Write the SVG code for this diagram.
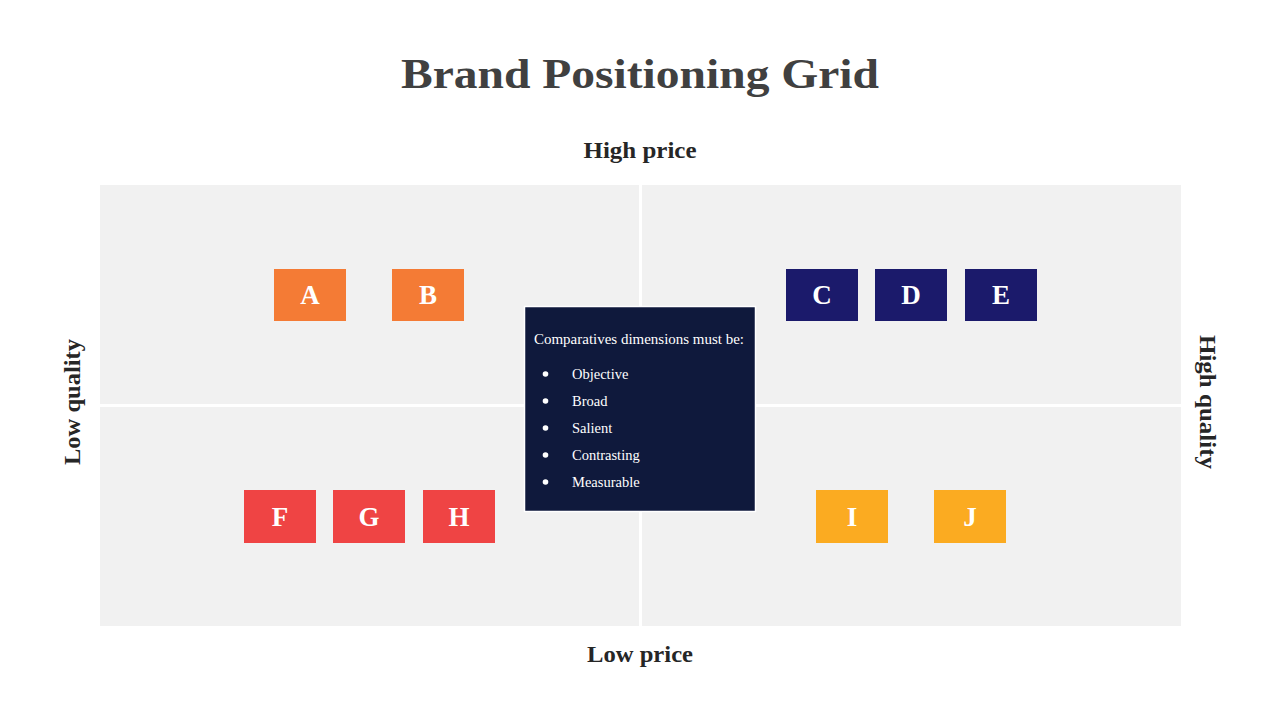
<svg xmlns="http://www.w3.org/2000/svg" width="1280" height="720" viewBox="0 0 1280 720">
<style>
.quad{fill:#f1f1f1}
.title{font-family:"Liberation Serif",serif;font-weight:bold;font-size:42px;fill:#404040;text-anchor:middle}
.axis{font-family:"Liberation Serif",serif;font-weight:bold;font-size:23px;fill:#262626;text-anchor:middle}
.lbl{font-family:"Liberation Serif",serif;font-weight:bold;font-size:27px;fill:#ffffff;text-anchor:middle}
.info{font-family:"Liberation Serif",serif;font-size:14.5px;fill:#ffffff}
.orange{fill:#f47b35}.navy{fill:#1b1a6b}.red{fill:#ef4444}.yellow{fill:#fbab21}
</style>
<rect width="1280" height="720" fill="#ffffff"/>
<text class="title" x="640" y="88" textLength="478" lengthAdjust="spacingAndGlyphs">Brand Positioning Grid</text>
<text class="axis" x="640" y="158" textLength="113" lengthAdjust="spacingAndGlyphs">High price</text>
<text class="axis" x="640" y="662" textLength="106" lengthAdjust="spacingAndGlyphs">Low price</text>
<text class="axis" transform="translate(80,402) rotate(-90)" textLength="126" lengthAdjust="spacingAndGlyphs">Low quality</text>
<text class="axis" transform="translate(1200,402) rotate(90)" textLength="134" lengthAdjust="spacingAndGlyphs">High quality</text>
<g id="grid">
<rect class="quad" x="100" y="185" width="539" height="219"/>
<rect class="quad" x="642" y="185" width="539" height="219"/>
<rect class="quad" x="100" y="407" width="539" height="219"/>
<rect class="quad" x="642" y="407" width="539" height="219"/>
</g>
<g id="A"><rect class="orange" x="274" y="269" width="72" height="52"/><text class="lbl" x="310" y="304">A</text></g>
<g id="B"><rect class="orange" x="392" y="269" width="72" height="52"/><text class="lbl" x="428" y="304">B</text></g>
<g id="C"><rect class="navy" x="786" y="269" width="72" height="52"/><text class="lbl" x="822" y="304">C</text></g>
<g id="D"><rect class="navy" x="875" y="269" width="72" height="52"/><text class="lbl" x="911" y="304">D</text></g>
<g id="E"><rect class="navy" x="965" y="269" width="72" height="52"/><text class="lbl" x="1001" y="304">E</text></g>
<g id="F"><rect class="red" x="244" y="490" width="72" height="53"/><text class="lbl" x="280" y="526">F</text></g>
<g id="G"><rect class="red" x="333" y="490" width="72" height="53"/><text class="lbl" x="369" y="526">G</text></g>
<g id="H"><rect class="red" x="423" y="490" width="72" height="53"/><text class="lbl" x="459" y="526">H</text></g>
<g id="I"><rect class="yellow" x="816" y="490" width="72" height="53"/><text class="lbl" x="852" y="526">I</text></g>
<g id="J"><rect class="yellow" x="934" y="490" width="72" height="53"/><text class="lbl" x="970" y="526">J</text></g>
<g id="info">
<rect x="524.5" y="306.5" width="231" height="205" fill="#0f193c" stroke="#ffffff" stroke-width="1.5"/>
<text class="info" x="534" y="344" textLength="210" lengthAdjust="spacingAndGlyphs">Comparatives dimensions must be:</text>
<g fill="#ffffff">
<circle cx="545.5" cy="374" r="2.8"/><circle cx="545.5" cy="401" r="2.8"/><circle cx="545.5" cy="428" r="2.8"/><circle cx="545.5" cy="455" r="2.8"/><circle cx="545.5" cy="482" r="2.8"/>
</g>
<text class="info" x="572" y="379">Objective</text>
<text class="info" x="572" y="406">Broad</text>
<text class="info" x="572" y="433">Salient</text>
<text class="info" x="572" y="460">Contrasting</text>
<text class="info" x="572" y="487">Measurable</text>
</g>
</svg>
